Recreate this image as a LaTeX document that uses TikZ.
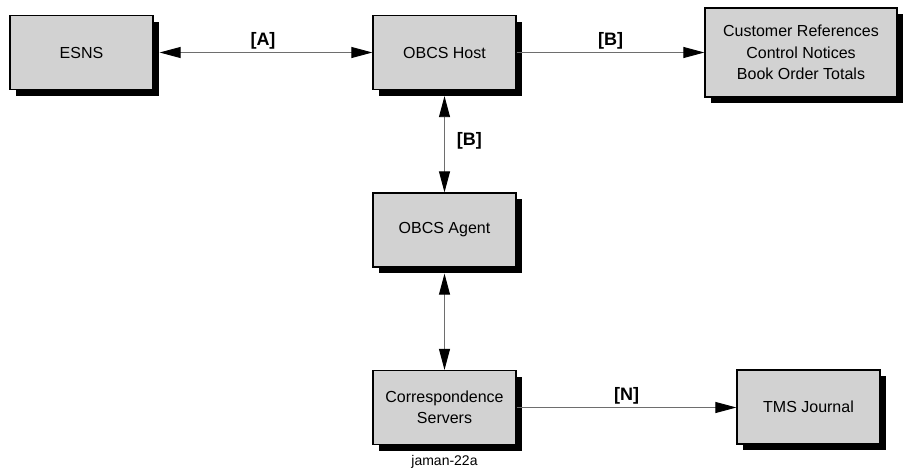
\documentclass[tikz,border=0pt]{standalone}
\usepackage{fontspec}
\setmainfont{Liberation Sans}
\usetikzlibrary{arrows.meta,shadows}
\definecolor{boxfill}{RGB}{210,210,210}
\definecolor{linegray}{RGB}{110,110,110}
\tikzset{
  blk/.style={draw=black, line width=1.3pt, fill=boxfill, minimum width=143pt, minimum height=74pt,
    align=center, inner sep=0pt, font=\fontsize{16}{21.5}\selectfont,
    drop shadow={shadow xshift=6pt, shadow yshift=-6pt, fill=black, opacity=1}},
  tip/.style={Triangle[length=21pt,width=11pt,fill=black,color=black]},
  conn/.style={draw=linegray, line width=0.9pt, -{Triangle[length=21pt,width=11pt,fill=black,color=black]}},
  bconn/.style={draw=linegray, line width=0.9pt, {Triangle[length=21pt,width=11pt,fill=black,color=black]}-{Triangle[length=21pt,width=11pt,fill=black,color=black]}},
  lbl/.style={font=\fontsize{18}{22}\selectfont\bfseries, inner sep=0pt},
}
\begin{document}
\begin{tikzpicture}[x=1pt,y=-1pt]
\useasboundingbox (0,0) rectangle (906,471);
\node[blk] (esns) at (81.5,52.5) {ESNS};
\node[blk] (host) at (444.5,52.5) {OBCS Host};
\node[blk, minimum width=192pt, minimum height=89pt] (cust) at (801,52.5) {Customer References\\Control Notices\\Book Order Totals};
\node[blk] (agent) at (444.5,230) {OBCS Agent};
\node[blk] (corr) at (444.5,407.5) {Correspondence\\Servers};
\node[blk] (tms) at (808.5,407) {TMS Journal};
\node[font=\fontsize{14}{16}\selectfont] (cap) at (444.5,462) {jaman-22a};
\draw[bconn, shorten <=6pt] (esns.east) -- (host.west) node[lbl, midway, above=3pt] (la) {[A]};
\draw[conn] (host.east) -- (cust.west |- host.east) node[lbl, midway, above=3pt] (lb1) {[B]};
\draw[bconn, shorten <=6pt] (host.south) -- (agent.north) node[lbl, midway, right=12pt] (lb2) {[B]};
\draw[bconn, shorten <=6pt] (agent.south) -- (corr.north);
\draw[conn] (corr.east) -- (tms.west |- corr.east) node[lbl, midway, above=3pt] (ln) {[N]};
\end{tikzpicture}
\end{document}
